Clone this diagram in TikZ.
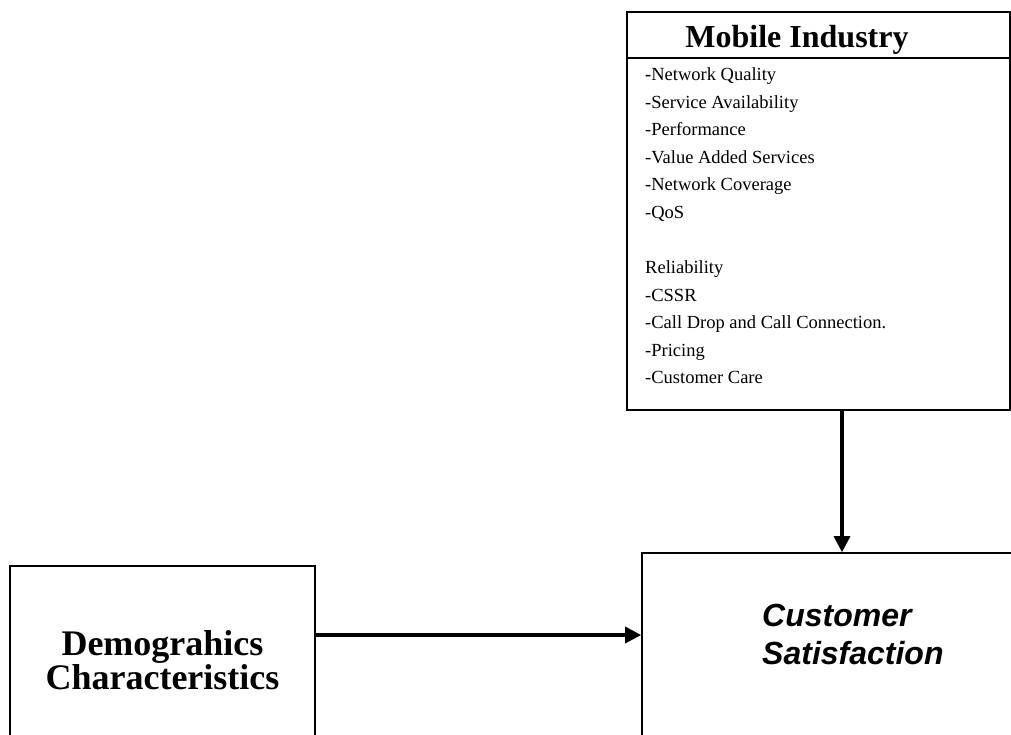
\documentclass[tikz,border=0pt]{standalone}
\usepackage{fontspec}
\setmainfont{Liberation Serif}
\newfontfamily\arialfont{Liberation Sans}
\usetikzlibrary{arrows.meta}
\begin{document}
\begin{tikzpicture}[x=1pt,y=-1pt,
  frame/.style={draw=black,line width=1.6pt,inner sep=0pt},
  link/.style={line width=3.2pt,-{Triangle[length=16pt,width=16pt]}},
  listtext/.style={anchor=base west,inner sep=0pt,font=\fontsize{18.5}{27.5}\selectfont},
  headtext/.style={anchor=base,inner sep=0pt,font=\fontsize{32}{36}\selectfont\bfseries},
  boldtext/.style={inner sep=0pt,align=center,font=\fontsize{36}{34}\selectfont\bfseries},
  sanstext/.style={anchor=west,inner sep=0pt,font=\fontsize{32}{38}\selectfont\arialfont\bfseries\itshape}]
\useasboundingbox (0,0) rectangle (1011,735);
\clip (0,0) rectangle (1011,735);

% Mobile industry factor box
\node[frame,minimum width=383pt,minimum height=398pt] (mob) at (818.5,211) {};
\draw[line width=1.6pt] (mob.west |- 0,58) -- (mob.east |- 0,58);
\node[headtext] (mobtitle) at (797,48) {Mobile Industry};
\node[listtext] (l1) at (645,81) {\textbf{-}Network Quality};
\node[listtext] (l2) at (645,108.5) {-Service Availability};
\node[listtext] (l3) at (645,136) {-Performance};
\node[listtext] (l4) at (645,163.5) {-Value Added Services};
\node[listtext] (l5) at (645,191) {-Network Coverage};
\node[listtext] (l6) at (645,218.5) {-QoS};
\node[listtext] (l7) at (645,273.5) {Reliability};
\node[listtext] (l8) at (645,301) {-CSSR};
\node[listtext] (l9) at (645,328.5) {-Call Drop and Call Connection.};
\node[listtext] (l10) at (645,356) {-Pricing};
\node[listtext] (l11) at (645,383.5) {-Customer Care};

% Demographics box (runs off the lower edge)
\node[frame,minimum width=305pt,minimum height=200pt] (demo) at (162.5,666) {};
\node[boldtext] (demotext) at (162.5,660) {Demograhics\\Characteristics};

% Customer satisfaction box (runs off the right and lower edges)
\node[frame,minimum width=400pt,minimum height=200pt] (cust) at (842,653) {};
\node[sanstext] (cust1) at (762,615) {Customer};
\node[sanstext] (cust2) at (762,653) {Satisfaction};

% Connectors
\coordinate (hline) at (0,635);
\coordinate (vline) at (842,0);
\draw[link] (demo.east |- hline) -- (cust.west |- hline);
\draw[link] (mob.south -| vline) -- (cust.north -| vline);
\end{tikzpicture}
\end{document}
